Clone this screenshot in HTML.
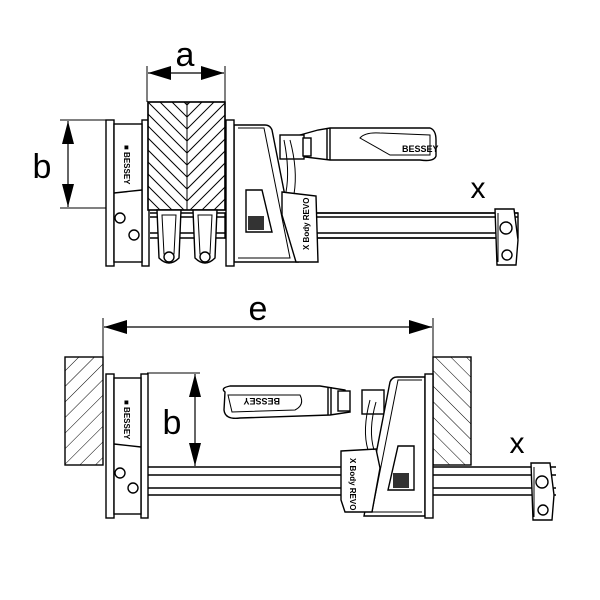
<!DOCTYPE html>
<html><head><meta charset="utf-8"><style>
html,body{margin:0;padding:0;background:#fff;width:600px;height:600px;overflow:hidden}
text{font-family:"Liberation Sans",sans-serif}
</style></head><body>
<svg width="600" height="600" viewBox="0 0 600 600" xmlns="http://www.w3.org/2000/svg">
<defs>
<pattern id="hatchL" width="11" height="11" patternUnits="userSpaceOnUse" patternTransform="rotate(-45)">
<line x1="0" y1="0" x2="0" y2="11" stroke="#000" stroke-width="1"/></pattern>
<pattern id="hatchR" width="11" height="11" patternUnits="userSpaceOnUse" patternTransform="rotate(45)">
<line x1="0" y1="0" x2="0" y2="11" stroke="#000" stroke-width="1"/></pattern>
<clipPath id="blk"><rect x="148" y="102" width="77" height="108"/></clipPath>
</defs>
<g fill="none" stroke="#000" stroke-width="1.4">

<!-- ===== TOP ===== -->
<line x1="147" y1="66" x2="147" y2="102" stroke-width="1"/>
<line x1="225" y1="66" x2="225" y2="102" stroke-width="1"/>
<line x1="148" y1="73" x2="224" y2="73" stroke-width="1.2"/>
<path d="M148,73 L171,66 L171,80z M224,73 L201,66 L201,80z" fill="#000" stroke="none"/>
<line x1="60" y1="120" x2="108" y2="120" stroke-width="1"/>
<line x1="60" y1="208" x2="240" y2="208" stroke-width="1"/>
<line x1="68" y1="121" x2="68" y2="207" stroke-width="1.2"/>
<path d="M68,121 L62,144 L74,144z M68,207 L62,184 L74,184z" fill="#000" stroke="none"/>

<rect x="225" y="213" width="293" height="25" fill="#fff"/>
<line x1="150" y1="217" x2="518" y2="217"/>
<line x1="150" y1="233" x2="518" y2="233"/>
<line x1="150" y1="213" x2="518" y2="213"/>
<line x1="150" y1="238" x2="518" y2="238"/>

<rect x="106" y="120" width="8" height="146" fill="#fff"/>
<rect x="142" y="120" width="7" height="146" fill="#fff"/>
<rect x="114" y="124" width="28" height="138" fill="#fff"/>
<line x1="114" y1="193" x2="142" y2="190"/>
<circle cx="120" cy="218" r="5"/>
<circle cx="134" cy="235" r="5"/>

<!-- wood block herringbone -->
<rect x="148" y="102" width="77" height="108" fill="#fff"/>
<g clip-path="url(#blk)" stroke-width="1">
<path d="M148,54 L187,93 L226,54 M148,66 L187,105 L226,66 M148,78 L187,117 L226,78 M148,90 L187,129 L226,90 M148,102 L187,141 L226,102 M148,114 L187,153 L226,114 M148,126 L187,165 L226,126 M148,138 L187,177 L226,138 M148,150 L187,189 L226,150 M148,162 L187,201 L226,162 M148,174 L187,213 L226,174 M148,186 L187,225 L226,186 M148,198 L187,237 L226,198"/>
</g>
<rect x="148" y="102" width="77" height="108"/>
<line x1="187" y1="102" x2="187" y2="210" stroke-width="1"/>

<path d="M157,210 L181,210 L179,258 Q169,268 159,258 Z" fill="#fff"/>
<path d="M193,210 L217,210 L215,258 Q205,268 195,258 Z" fill="#fff"/>
<path d="M162,215 L176,215 L174,254 L164,254Z" stroke-width="1"/>
<path d="M198,215 L212,215 L210,254 L200,254Z" stroke-width="1"/>
<circle cx="169" cy="257" r="5" fill="#fff"/>
<circle cx="205" cy="257" r="5" fill="#fff"/>

<path d="M300,135 L318,130 L330,128 L430,128 Q436,130 436,140 L436,156 Q434,162 420,160 L330,160 L305,157 Z" fill="#fff"/>
<line x1="327" y1="129" x2="327" y2="160"/>
<line x1="330" y1="128" x2="330" y2="160"/>
<path d="M360,138 Q365,132 380,133 L430,135 L430,155 L390,155 Z" stroke-width="1"/>
<text x="402" y="152" font-size="9" font-weight="bold" fill="#000" stroke="none">BESSEY</text>
<rect x="280" y="135" width="24" height="24" fill="#fff"/>
<rect x="303" y="138" width="8" height="18" fill="#fff"/>

<path d="M234,125 L265,125 Q270,125 272,130 L298,262 L234,262 Z" fill="#fff"/>
<path d="M238,128 L264,128 L290,258 L238,258" stroke-width="1"/>
<path d="M246,190 L262,190 L272,232 L246,232 Z" fill="#fff"/>
<rect x="248" y="216" width="16" height="14" fill="#333" stroke="none"/>
<path d="M282,192 L316,196 L318,262 L296,262 L282,215Z" fill="#fff"/>
<text transform="translate(309,250) rotate(-90)" font-size="8" font-weight="bold" fill="#000" stroke="none">X Body REVO</text>
<rect x="226" y="120" width="8" height="146" fill="#fff"/>
<path d="M284,140 Q290,170 286,192 M290,140 Q298,170 294,194" stroke-width="1"/>

<path d="M495,209 L514,209 L518,240 L516,265 L497,265 Z" fill="#fff"/>
<circle cx="506" cy="228" r="6"/>
<circle cx="507" cy="255" r="5"/>
<line x1="498" y1="213" x2="498" y2="262" stroke-width="1"/>

<!-- ===== BOTTOM ===== -->
<rect x="65" y="357" width="38" height="108" fill="url(#hatchR)"/>
<rect x="433" y="357" width="38" height="108" fill="url(#hatchL)"/>
<line x1="103" y1="318" x2="103" y2="357" stroke-width="1"/>
<line x1="433" y1="318" x2="433" y2="357" stroke-width="1"/>
<line x1="104" y1="327" x2="432" y2="327" stroke-width="1.2"/>
<path d="M104,327 L127,320 L127,334z M432,327 L409,320 L409,334z" fill="#000" stroke="none"/>

<line x1="147" y1="467" x2="556" y2="467"/>
<line x1="147" y1="475" x2="556" y2="475"/>
<line x1="147" y1="488" x2="556" y2="488"/>
<line x1="147" y1="495" x2="556" y2="495"/>

<line x1="147" y1="373" x2="200" y2="373" stroke-width="1"/>
<line x1="195" y1="374" x2="195" y2="466" stroke-width="1.2"/>
<path d="M195,374 L189,397 L201,397z M195,466 L189,443 L201,443z" fill="#000" stroke="none"/>

<rect x="106" y="374" width="8" height="144" fill="#fff"/>
<rect x="141" y="374" width="7" height="144" fill="#fff"/>
<rect x="114" y="378" width="27" height="136" fill="#fff"/>
<line x1="114" y1="444" x2="141" y2="447"/>
<circle cx="120" cy="473" r="5"/>
<circle cx="133" cy="488" r="5"/>

<path d="M225,392 Q220,388 230,386 L320,386 L345,390 L350,412 L330,415 L240,418 Q225,420 224,410 Z" fill="#fff"/>
<line x1="328" y1="387" x2="328" y2="415"/>
<line x1="331" y1="387" x2="331" y2="415"/>
<path d="M228,395 L300,395 Q305,405 295,410 L232,412 Z" stroke-width="1"/>
<rect x="338" y="391" width="12" height="20" fill="#fff"/>
<rect x="362" y="390" width="22" height="24" fill="#fff"/>

<path d="M425,377 L397,377 Q392,377 390,382 L364,516 L425,516 Z" fill="#fff"/>
<path d="M422,380 L398,380 L372,512 L422,512" stroke-width="1"/>
<path d="M398,446 L414,446 L414,490 L388,490 Z" fill="#fff"/>
<rect x="393" y="473" width="16" height="15" fill="#333" stroke="none"/>
<path d="M341,451 L376,449 L380,468 L372,512 L345,512 L341,500Z" fill="#fff"/>
<text transform="translate(350,458) rotate(90)" font-size="8" font-weight="bold" fill="#000" stroke="none">X Body REVO</text>
<path d="M370,400 Q362,430 368,450 M376,402 Q368,430 374,450" stroke-width="1"/>
<rect x="425" y="374" width="8" height="144" fill="#fff"/>

<path d="M531,463 L550,463 L554,495 L552,520 L533,520 Z" fill="#fff"/>
<circle cx="542" cy="482" r="6"/>
<circle cx="543" cy="510" r="5"/>
<line x1="534" y1="467" x2="534" y2="517" stroke-width="1"/>
</g>

<g fill="#000" font-family="Liberation Sans, sans-serif">
<text x="185" y="66" font-size="34" text-anchor="middle">a</text>
<text x="42" y="178" font-size="34" text-anchor="middle">b</text>
<text x="478" y="198" font-size="30" text-anchor="middle">x</text>
<text x="258" y="320" font-size="34" text-anchor="middle">e</text>
<text x="172" y="434" font-size="34" text-anchor="middle">b</text>
<text x="517" y="453" font-size="30" text-anchor="middle">x</text>
<text transform="translate(124,145) rotate(90)" font-size="8" font-weight="bold">■ BESSEY</text>
<text transform="translate(124,400) rotate(90)" font-size="8" font-weight="bold">■ BESSEY</text>
<text x="240" y="404" font-size="9" font-weight="bold" transform="rotate(180,260,401)">BESSEY</text>
</g>
</svg>
</body></html>
